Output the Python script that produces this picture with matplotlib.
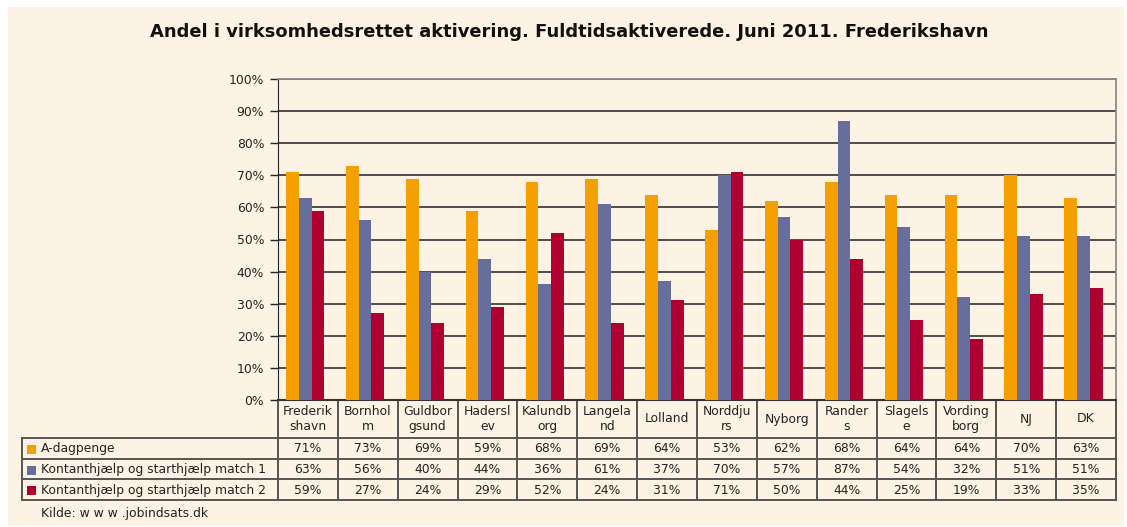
import matplotlib.pyplot as plt
import numpy as np
from matplotlib.patches import Rectangle
from matplotlib.transforms import blended_transform_factory

# Data
categories = ["Frederik\nshavn", "Bornhol\nm", "Guldbor\ngsund", "Hadersl\nev",
              "Kalundb\norg", "Langela\nnd", "Lolland", "Norddju\nrs", "Nyborg",
              "Rander\ns", "Slagels\ne", "Vording\nborg", "NJ", "DK"]
series_names = ["A-dagpenge",
                "Kontanthjælp og starthjælp match 1",
                "Kontanthjælp og starthjælp match 2"]
a_dagpenge = [71, 73, 69, 59, 68, 69, 64, 53, 62, 68, 64, 64, 70, 63]
match_1 = [63, 56, 40, 44, 36, 61, 37, 70, 57, 87, 54, 32, 51, 51]
match_2 = [59, 27, 24, 29, 52, 24, 31, 71, 50, 44, 25, 19, 33, 35]
y_ticks = [0, 10, 20, 30, 40, 50, 60, 70, 80, 90, 100]

colors = ["#F5A000", "#666E9C", "#B00032"]
bg = "#FDF3E5"
txt = "#222222"
fs = 8.9
W, H = 1127, 527

plt.rcParams["font.family"] = ["DejaVu Sans"]

fig = plt.figure(figsize=(W / 100, H / 100), dpi=100)
fig.patch.set_facecolor("white")

# overlay axes in pixel coords for background, title and table
ov = fig.add_axes([0, 0, 1, 1])
ov.set_xlim(0, W)
ov.set_ylim(H, 0)
ov.axis("off")
ov.add_patch(Rectangle((8, 7), 1116, 519, facecolor=bg, edgecolor="none", zorder=0))

ax = fig.add_axes([278 / W, (H - 400) / H, 838 / W, 321 / H])
ax.set_facecolor("none")

x = np.arange(len(categories))
bw = 0.213
off = -0.045
for k, vals in enumerate([a_dagpenge, match_1, match_2]):
    ax.bar(x + off + (k - 1) * bw, vals, width=bw, color=colors[k], zorder=3)

ax.set_xlim(-0.5, len(categories) - 0.5)
ax.set_ylim(0, 100)
ax.set_yticks(y_ticks)
ax.set_yticklabels([f"{v}%" for v in y_ticks], fontsize=fs, color=txt)
ax.set_xticks([])
ax.tick_params(axis="y", length=6, width=1, color=txt, pad=4)
ax.grid(axis="y", color="#404040", linewidth=1.3, zorder=1)
for s in ["top", "right"]:
    ax.spines[s].set_color("#8a8a8a")
    ax.spines[s].set_linewidth(1.3)
ax.spines["left"].set_color(txt)
ax.spines["bottom"].set_color("#333333")
ax.spines["bottom"].set_linewidth(1.5)

ov.text(569, 32, "Andel i virksomhedsrettet aktivering. Fuldtidsaktiverede. Juni 2011. Frederikshavn",
        ha="center", va="center", fontsize=12.9, fontweight="bold", color="#111111")

# table below the plot, columns follow the bar axis
tr = blended_transform_factory(ax.transData, ov.transData)
line_kw = dict(color="#555555", linewidth=1.4, zorder=5)
x_left, x_right = -0.5, len(categories) - 0.5
row_y = [438, 458.7, 479.3, 500]

for i in range(len(categories) + 1):
    ov.plot([x_left + i, x_left + i], [400, 500], transform=tr, **line_kw)
for yy in row_y:
    ov.plot([22, 278], [yy, yy], **line_kw)
    ov.plot([x_left, x_right], [yy, yy], transform=tr, **line_kw)
ov.plot([22, 22], [438, 500], **line_kw)

for i, name in enumerate(categories):
    ov.text(x[i], 419, name, transform=tr, ha="center", va="center",
            fontsize=fs, color=txt, linespacing=1.2)

for r, vals in enumerate([a_dagpenge, match_1, match_2]):
    yc = (row_y[r] + row_y[r + 1]) / 2
    ov.add_patch(Rectangle((27, yc - 3.5), 9, 9, facecolor=colors[r], edgecolor="none"))
    ov.text(41, yc + 0.5, series_names[r], ha="left", va="center", fontsize=fs, color=txt)
    for i, v in enumerate(vals):
        ov.text(x[i], yc + 0.5, f"{v}%", transform=tr, ha="center", va="center",
                fontsize=fs, color=txt)

ov.text(41, 513, "Kilde: w w w .jobindsats.dk", ha="left", va="center", fontsize=fs, color=txt)

fig.savefig("out.png", dpi=100, facecolor=fig.get_facecolor())
